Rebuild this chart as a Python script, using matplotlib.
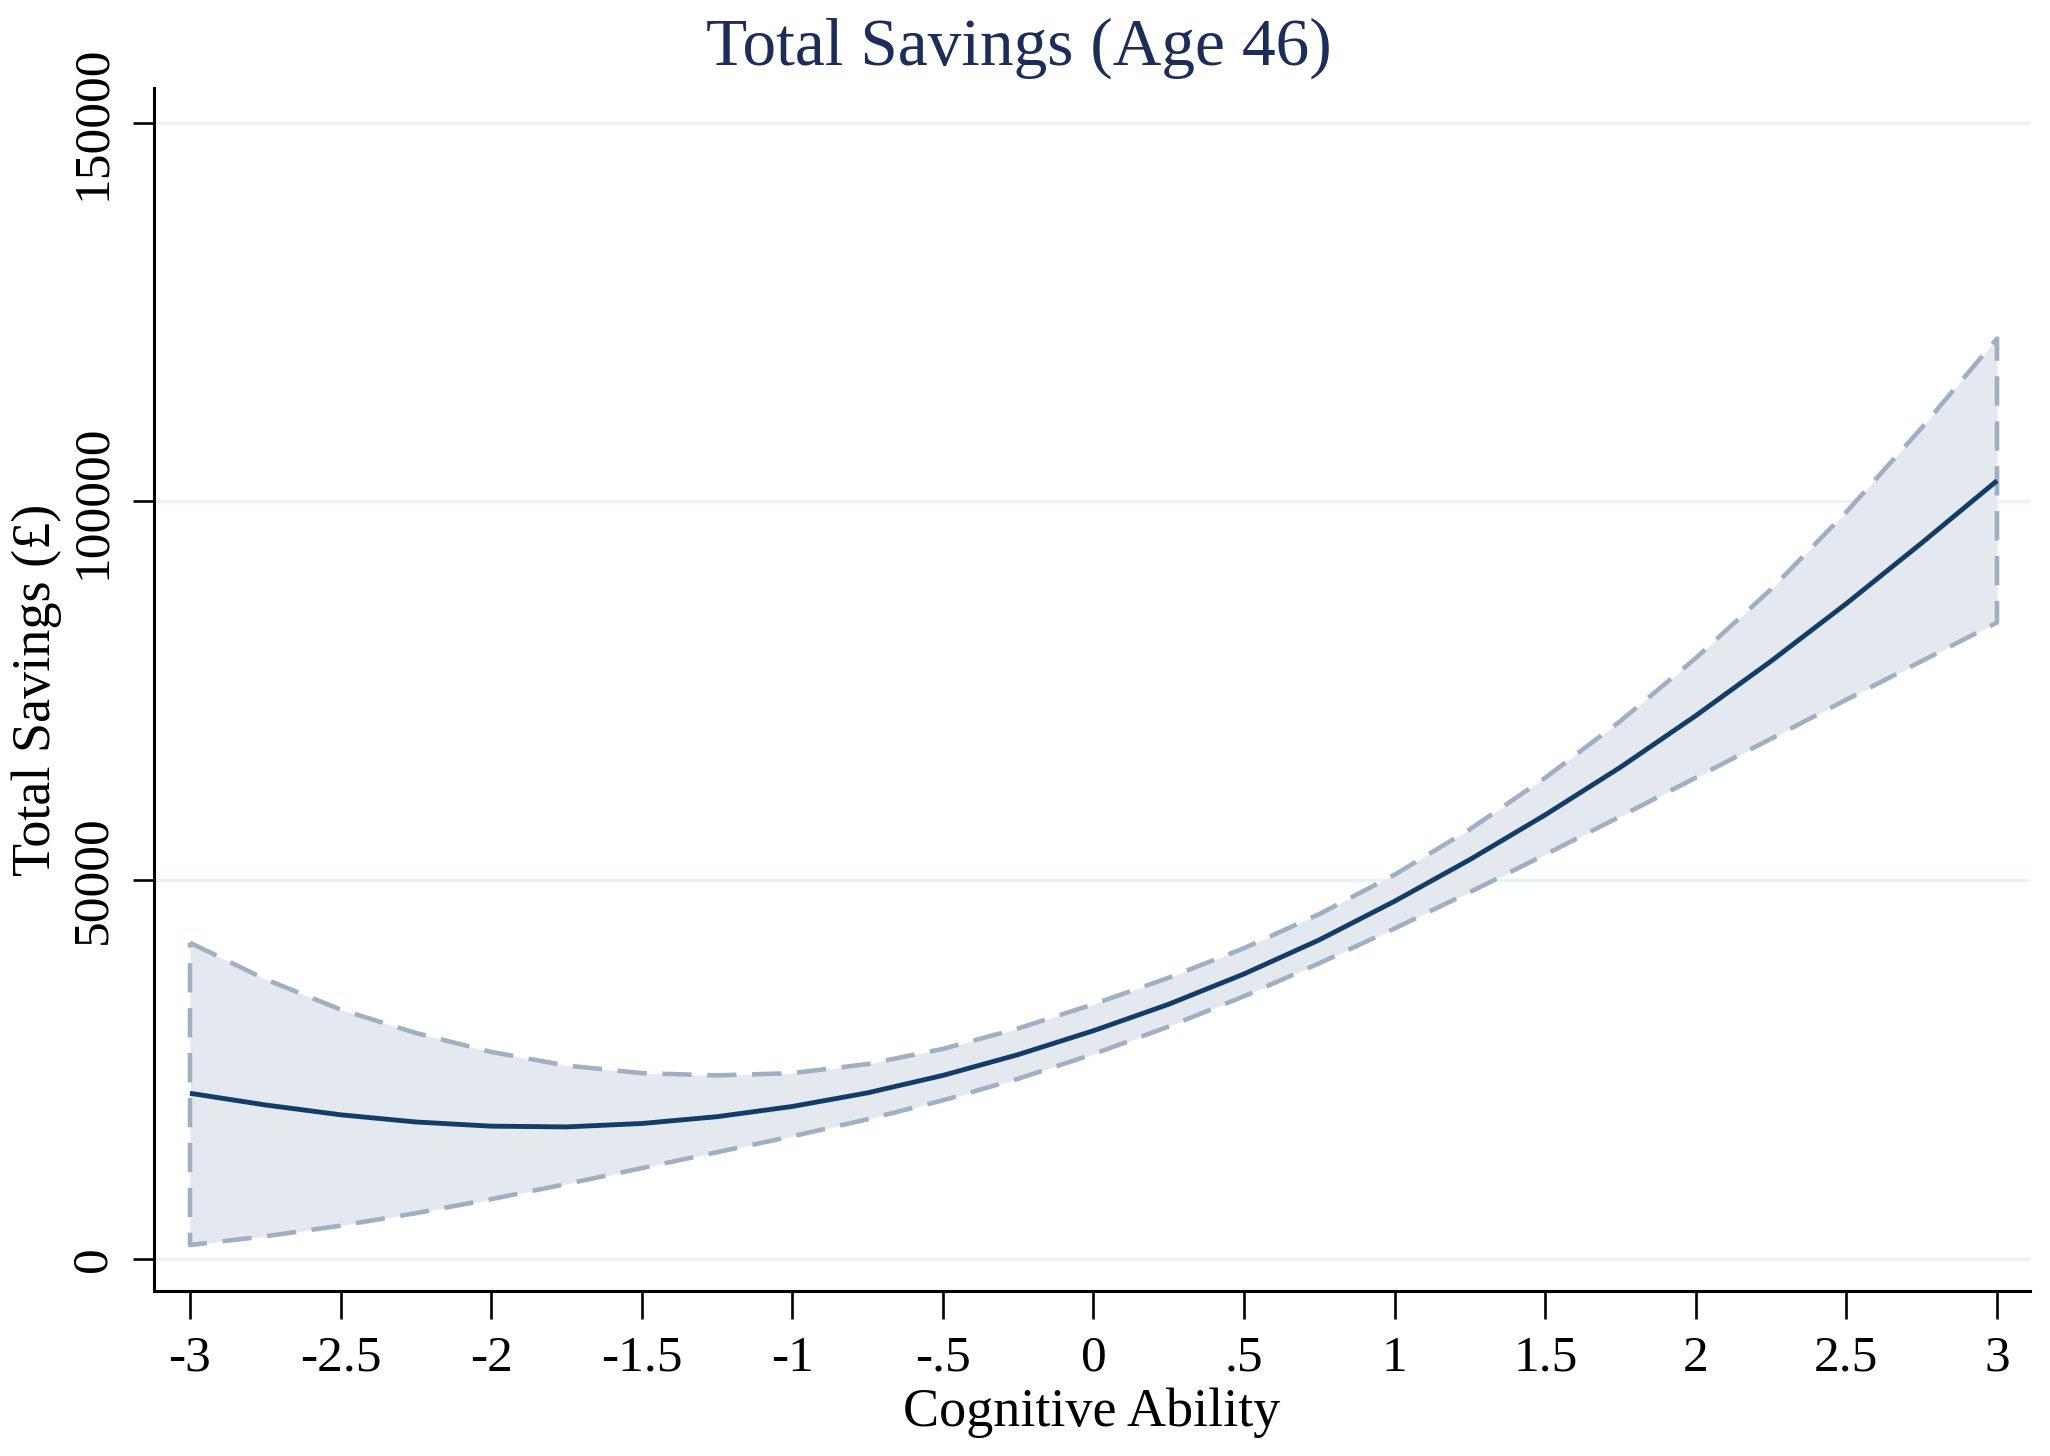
import matplotlib
matplotlib.use("Agg")
import matplotlib.pyplot as plt
import numpy as np

# ---- data ----
cog_ability = [-3, -2.75, -2.5, -2.25, -2, -1.75, -1.5, -1.25, -1, -0.75, -0.5, -0.25, 0,
               0.25, 0.5, 0.75, 1, 1.25, 1.5, 1.75, 2, 2.25, 2.5, 2.75, 3]
fit_savings = [21840, 20300, 19000, 18050, 17500, 17400, 17850, 18750, 20100, 21900, 24200, 26950, 30100,
               33600, 37600, 42100, 47200, 52700, 58600, 64900, 71700, 78900, 86500, 94500, 102720]
ci_upper = [41720, 36900, 32900, 29800, 27300, 25500, 24500, 24200, 24500, 25700, 27700, 30400, 33600,
            37100, 41000, 45500, 50700, 56700, 63500, 71000, 79300, 88400, 98600, 109700, 121480]
ci_lower = [1810, 2960, 4360, 6010, 7860, 9860, 11960, 14060, 16160, 18410, 20910, 23760, 27010,
            30660, 34660, 39010, 43610, 48410, 53360, 58410, 63510, 68660, 73810, 78910, 84000]

x_ticks = [-3, -2.5, -2, -1.5, -1, -0.5, 0, 0.5, 1, 1.5, 2, 2.5, 3]
x_tick_labels = ["-3", "-2.5", "-2", "-1.5", "-1", "-.5", "0", ".5", "1", "1.5", "2", "2.5", "3"]
y_ticks = [0, 50000, 100000, 150000]
y_tick_labels = ["0", "50000", "100000", "150000"]

title = "Total Savings (Age 46)"
xlabel = "Cognitive Ability"
ylabel = "Total Savings (£)"

# ---- style ----
plt.rcParams['font.family'] = ['Liberation Serif', 'DejaVu Serif']
navy = "#133d68"
ci_edge = "#9fb0c2"
ci_fill = "#e4e9ef"
grid_c = "#eaf2f3"

W, H = 2050, 1456
fig = plt.figure(figsize=(W / 100, H / 100), dpi=100)
ax_l, ax_r, ax_t, ax_b = 154, 2030, 88, 1291
ax = fig.add_axes([ax_l / W, 1 - ax_b / H, (ax_r - ax_l) / W, (ax_b - ax_t) / H])

x = np.array(cog_ability, dtype=float)
up = np.array(ci_upper, dtype=float)
lo = np.array(ci_lower, dtype=float)

ax.fill_between(x, lo, up, color=ci_fill, lw=0, zorder=1)
# closed dashed outline of CI band
px = np.concatenate([x, x[::-1], x[:1]])
py = np.concatenate([up, lo[::-1], up[:1]])
ax.plot(px, py, color=ci_edge, lw=3.3, dashes=(6.4, 3.4), zorder=2,
        dash_joinstyle='round', dash_capstyle='butt')
ax.plot(x, fit_savings, color=navy, lw=3.5, zorder=3, solid_capstyle='butt',
        solid_joinstyle='round')

for yt in y_ticks:
    ax.axhline(yt, color=grid_c, lw=2.4, zorder=0)

ax.set_xlim(-3.1195, 3.1096)
ax.set_ylim(-4265, 154570)

ax.set_xticks(x_ticks)
ax.set_xticklabels(x_tick_labels, fontsize=37)
ax.set_yticks(y_ticks)
ax.set_yticklabels(y_tick_labels, fontsize=37, rotation=90, va='center')

ax.tick_params(axis='both', direction='out', width=1.9, color='black')
ax.tick_params(axis='x', length=20, pad=12)
ax.tick_params(axis='y', length=15, pad=12)

for s in ['top', 'right']:
    ax.spines[s].set_visible(False)
for s in ['left', 'bottom']:
    ax.spines[s].set_linewidth(2.2)

ax.set_xlabel(xlabel, fontsize=39, labelpad=4)
ax.set_ylabel(ylabel, fontsize=39, labelpad=6)
fig.text(0.497, 0.9667, title, fontsize=48.5, color="#1c2d58", ha='center', va='center')

fig.savefig("out.png", dpi=100, facecolor='white')
